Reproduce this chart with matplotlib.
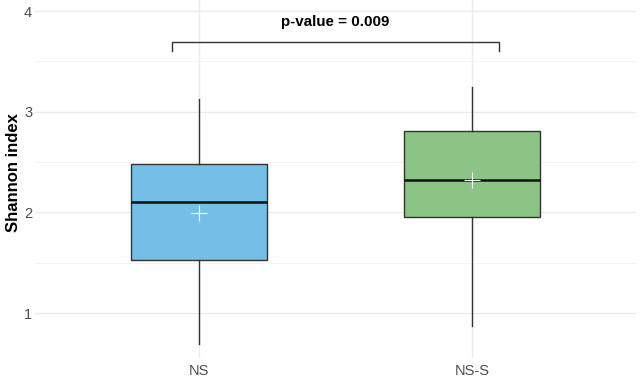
import matplotlib
matplotlib.use("Agg")
import matplotlib.pyplot as plt
from matplotlib.ticker import MultipleLocator

plt.rcParams['font.family'] = ['Liberation Sans', 'DejaVu Sans']

categories = ["NS", "NS-S"]
whislo = [0.69, 0.875]
q1 = [1.53, 1.953]
med = [2.10, 2.32]
q3 = [2.477, 2.807]
whishi = [3.122, 3.247]
means = [1.99, 2.32]
colors = ["#75BFE7", "#8CC485"]
p_text = "p-value = 0.009"
bracket_y = 3.69
bracket_tick = 3.60
text_y = 3.89

fig = plt.figure(figsize=(6.4, 3.84), dpi=100)
ax = fig.add_axes([35/640, 1 - 358/384, 601/640, 358/384])

stats = []
for i, c in enumerate(categories):
    stats.append(dict(label=c, whislo=whislo[i], q1=q1[i], med=med[i],
                      q3=q3[i], whishi=whishi[i], mean=means[i], fliers=[]))
pos = list(range(1, len(categories) + 1))
bp = ax.bxp(stats, positions=pos, widths=0.5, patch_artist=True, showcaps=False,
            showmeans=True, meanline=False,
            boxprops=dict(edgecolor="#333333", linewidth=1.0),
            whiskerprops=dict(color="#333333", linewidth=1.0),
            medianprops=dict(color="#111111", linewidth=1.8),
            meanprops=dict(marker="+", markeredgecolor="white", markersize=11,
                           markeredgewidth=0.8), zorder=3)
for patch, col in zip(bp['boxes'], colors):
    patch.set_facecolor(col)

ax.set_xlim(0.4, 2.6)
ax.set_ylim(0.553, 4.11)
ax.yaxis.set_major_locator(MultipleLocator(1))
ax.yaxis.set_minor_locator(MultipleLocator(0.5))
ax.set_xticks(pos)
ax.set_xticklabels(categories)
ax.grid(True, which="major", color="#EBEBEB", linewidth=1.0, zorder=0)
ax.grid(True, which="minor", axis="y", color="#F3F3F3", linewidth=0.6, zorder=0)
ax.set_axisbelow(True)
for s in ax.spines.values():
    s.set_visible(False)
ax.tick_params(which="both", length=0, labelsize=10.5, labelcolor="#4D4D4D")
ax.tick_params(axis="x", pad=4)
ax.tick_params(axis="y", pad=2)
fig.text(14/640, 1 - 173/384, "Shannon index", rotation=90, ha="center",
         va="center", fontsize=12, fontweight="bold", color="black")

x0, x1 = 0.9, 2.1
ax.plot([x0, x0, x1, x1], [bracket_tick, bracket_y, bracket_y, bracket_tick],
        color="#333333", linewidth=1.0, zorder=4)
ax.text(1.5, text_y, p_text, ha="center", va="center", fontsize=10.9,
        fontweight="bold", color="black")

fig.savefig("out.png", dpi=100)
